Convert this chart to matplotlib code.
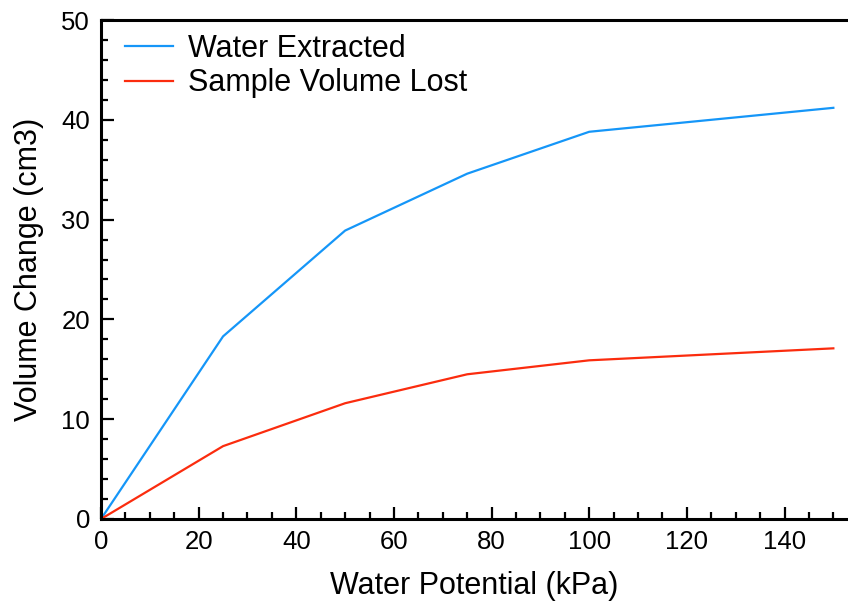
import matplotlib
matplotlib.use("Agg")
import matplotlib.pyplot as plt
from matplotlib.ticker import MultipleLocator

plt.rcParams['font.family'] = ['Liberation Sans', 'DejaVu Sans']

water_potential = [0, 25, 50, 75, 100, 150]
water_extracted = [0, 18.3, 28.9, 34.6, 38.8, 41.2]
volume_lost = [0, 7.3, 11.6, 14.5, 15.9, 17.1]

fig = plt.figure(figsize=(8.48, 6.09), dpi=100)
ax = fig.add_axes([101 / 848, 1 - 519 / 609, 1 - 101 / 848, (519 - 20) / 609])

ax.plot(water_potential, water_extracted, color='#1596F8', lw=1.6, label='Water Extracted')
ax.plot(water_potential, volume_lost, color='#FB2C0E', lw=1.6, label='Sample Volume Lost')

ax.set_xlim(0, 153)
ax.set_ylim(0, 50)
ax.xaxis.set_major_locator(MultipleLocator(20))
ax.xaxis.set_minor_locator(MultipleLocator(5))
ax.yaxis.set_major_locator(MultipleLocator(10))
ax.yaxis.set_minor_locator(MultipleLocator(2))
ax.tick_params(which='both', direction='in', top=False, right=False, width=1.6)
ax.tick_params(which='major', length=9, labelsize=18.5, pad=8)
ax.tick_params(which='minor', length=5)

for side in ('left', 'bottom', 'top'):
    ax.spines[side].set_linewidth(2.2)
ax.spines['right'].set_visible(False)

ax.set_xlabel('Water Potential (kPa)', fontsize=22, labelpad=12)
ax.set_ylabel('Volume Change (cm3)', fontsize=22, labelpad=12)

ax.legend(loc='upper left', bbox_to_anchor=(0.014, 1.0), frameon=False, fontsize=22,
          handlelength=1.55, handletextpad=0.5, borderaxespad=0.15, borderpad=0.3,
          labelspacing=0.15)

fig.savefig('out.png', dpi=100)
